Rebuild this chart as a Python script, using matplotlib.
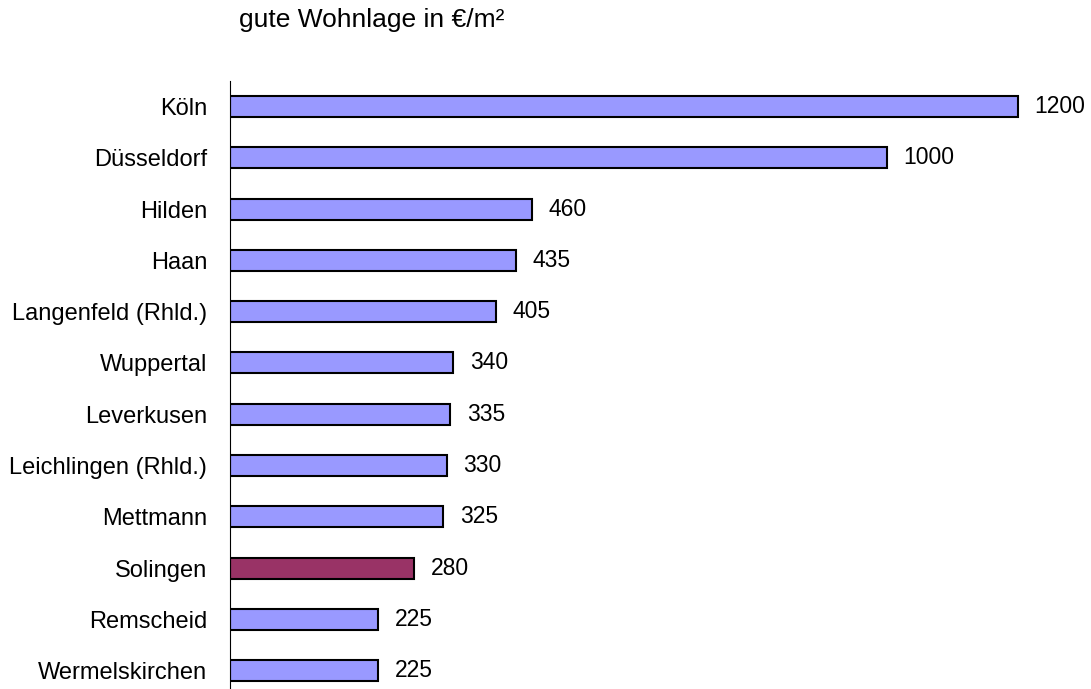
import matplotlib.pyplot as plt

plt.rcParams['font.family'] = ['Liberation Sans', 'DejaVu Sans']

cities = ['Köln', 'Düsseldorf', 'Hilden', 'Haan', 'Langenfeld (Rhld.)', 'Wuppertal',
          'Leverkusen', 'Leichlingen (Rhld.)', 'Mettmann', 'Solingen', 'Remscheid',
          'Wermelskirchen']
prices = [1200, 1000, 460, 435, 405, 340, 335, 330, 325, 280, 225, 225]
highlight = 'Solingen'
title = 'gute Wohnlage in €/m²'

colors = ['#993366' if c == highlight else '#9999FF' for c in cities]
pos = list(range(len(cities)))

fig = plt.figure(figsize=(10.91, 6.89), dpi=100)
ax = fig.add_axes([230 / 1091, 0, 853.7 / 1091, 1 - 81 / 689])

ax.barh(pos, prices, height=0.41, color=colors, edgecolor='black', linewidth=1.5)
for p, v in zip(pos, prices):
    ax.annotate(str(v), (v, p), xytext=(12, 0), textcoords='offset points',
                va='center', ha='left', fontsize=16.5)

ax.set_xlim(0, 1300)
ax.set_ylim(11.36, -0.5)
ax.set_yticks(pos)
ax.set_yticklabels(cities, fontsize=17)
ax.tick_params(axis='y', length=0, pad=16.5)
ax.set_xticks([])
for s in ['top', 'right', 'bottom']:
    ax.spines[s].set_visible(False)
ax.spines['left'].set_linewidth(0.8)

fig.text(239 / 1091, 1 - 27 / 689, title, fontsize=19, va='baseline', ha='left')

fig.savefig('out.png', dpi=100)
